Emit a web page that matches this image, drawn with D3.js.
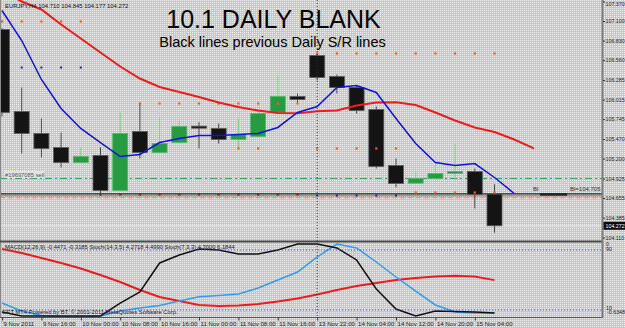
<!DOCTYPE html>
<html>
<head>
<meta charset="utf-8">
<script src="https://cdn.jsdelivr.net/npm/d3@7"></script>
<style>
html, body { margin: 0; padding: 0; background: #d3d3d3; }
svg { display: block; font-family: "Liberation Sans", Arial, sans-serif; }
</style>
</head>
<body>
<svg id="chart" width="625" height="328"></svg>
<script>
'use strict';

// EURJPY H4, 9 Nov 2011 08:00 .. 15 Nov 04:00
var opens  = [106.983, 105.851, 105.547, 105.353, 105.146, 105.243, 104.759, 105.574, 105.284, 105.422, 105.648, 105.616, 105.464,
              105.505, 105.837, 106.058, 106.624, 106.334, 106.182, 105.878, 105.105, 104.860, 104.925, 104.994, 105.022, 104.710];
var highs  = [107.000, 106.182, 105.754, 105.561, 105.353, 105.353, 105.837, 105.961, 105.768, 105.726, 105.703, 105.685, 105.754,
              105.864, 106.348, 106.099, 106.652, 106.362, 106.210, 105.920, 105.202, 105.026, 105.132, 105.409, 105.063, 104.845];
var lows   = [105.782, 105.271, 105.215, 105.077, 105.132, 104.690, 104.746, 105.202, 105.271, 105.409, 105.340, 105.409, 105.353,
              105.492, 105.823, 105.975, 106.279, 106.099, 105.823, 105.063, 104.801, 104.856, 104.911, 104.898, 104.511, 104.177];
var closes = [105.837, 105.547, 105.340, 105.146, 105.229, 104.759, 105.547, 105.284, 105.409, 105.643, 105.620, 105.464, 105.533,
              105.823, 106.058, 106.016, 106.320, 106.182, 105.864, 105.091, 104.856, 104.925, 104.994, 105.022, 104.705, 104.272];

// moving averages (drawn shifted, so they run past the last bar)
var maFast = [107.246, 106.831, 106.293, 105.892, 105.616, 105.422, 105.229, 105.257, 105.422, 105.478, 105.519, 105.519, 105.533,
              105.547, 105.630, 105.837, 105.920, 106.182, 106.210, 106.113, 105.754, 105.409, 105.146, 105.105, 105.132, 104.939, 104.718];
var maSlow = [107.522, 107.370, 107.260, 107.052, 106.859, 106.666, 106.472, 106.306, 106.189, 106.120, 106.051, 105.975, 105.913,
              105.864, 105.830, 105.827, 105.855, 105.864, 105.934, 105.975, 105.979, 105.940, 105.837, 105.726, 105.630, 105.568, 105.464, 105.340];

// lower window
var stochMain   = [7.3, 2, 2, 2, 2, 2, 19.3, 34, 72.7, 83.3, 91.3, 90, 84.7, 84.7, 90, 98, 98, 92.7, 76.7, 38, 11.3, 2, 8.7, 8, 7.3, 6];
var stochSignal = [19.3, 8.7, 2.7, 1.3, 1.1, 2, 8.7, 12.7, 16, 22, 27.7, 29.3, 31.3, 39.3, 50, 60.7, 80.7, 98, 92.7, 74, 54, 35.3, 16.7, 7.3, 6, 6];
var macdSignal  = [-0.055, -0.089, -0.131, -0.174, -0.220, -0.275, -0.334, -0.402, -0.461, -0.495, -0.529, -0.537, -0.533,
                   -0.521, -0.499, -0.474, -0.440, -0.402, -0.368, -0.343, -0.317, -0.300, -0.288, -0.282, -0.288, -0.3185];

// marker rows: [price, first bar, last bar]
var orangeDots = [[107.094, 0, 4], [105.961, 7, 15], [106.652, 16, 25], [105.340, 12, 13], [105.340, 16, 20], [104.732, 21, 25]];
var blueDots   = [[106.458, 1, 4], [104.690, 16, 20]];
var redDots    = [[104.704, 5, 15]];

var srLevel = 104.705, sellLevel = 104.925, stopLevel = 104.660;

var priceTicks = [107.370, 107.100, 106.830, 106.560, 106.285, 106.015, 105.745, 105.470, 105.200, 104.925, 104.655, 104.385, 104.110];
var timeTicks  = [0, 2, 4, 6, 8, 10, 12, 14, 16, 18, 20, 22, 24];
var timeLabels = ['9 Nov 2011', '9 Nov 16:00', '10 Nov 00:00', '10 Nov 08:00', '10 Nov 16:00', '11 Nov 00:00', '11 Nov 08:00',
                  '11 Nov 16:00', '13 Nov 22:00', '14 Nov 04:00', '14 Nov 12:00', '14 Nov 20:00', '15 Nov 04:00'];

var W = 625, H = 328;
var plotR = 602;
var mainBot = 241, indTop = 242.5, indBot = 317.5;

var svg = d3.select('#chart');
var defs = svg.append('defs');

// dithered grey background like the gif
var pat = defs.append('pattern').attr('id', 'dots')
	.attr('width', 2).attr('height', 2).attr('patternUnits', 'userSpaceOnUse');
pat.append('rect').attr('width', 2).attr('height', 2).attr('fill', '#c7c7c7');
pat.append('rect').attr('width', 1).attr('height', 1).attr('fill', '#f0f0f0');
svg.append('rect').attr('width', W).attr('height', H).attr('fill', 'url(#dots)');

defs.append('clipPath').attr('id', 'mainClip')
	.append('rect').attr('x', 0).attr('y', 0).attr('width', plotR).attr('height', mainBot);
defs.append('clipPath').attr('id', 'indClip')
	.append('rect').attr('x', 0).attr('y', indTop).attr('width', plotR).attr('height', indBot - indTop);

var x = d3.scaleLinear().domain([0, 25]).range([2, 494.5]);
var yP = d3.scaleLinear().domain([104.110, 107.370]).range([237.5, 1.5]);
var yS = d3.scaleLinear().domain([0, 100]).range([indBot, indTop]);
var yM = d3.scaleLinear().domain([-0.6348, 0]).range([indBot, indTop]);

var main = svg.append('g').attr('clip-path', 'url(#mainClip)');
var ind = svg.append('g').attr('clip-path', 'url(#indClip)');

// period separator
svg.append('line')
	.attr('x1', x(16)).attr('x2', x(16)).attr('y1', 0).attr('y2', indBot)
	.attr('stroke', '#333').attr('stroke-dasharray', '1,2');

// levels
main.append('line').attr('x1', 0).attr('x2', plotR).attr('y1', yP(sellLevel)).attr('y2', yP(sellLevel))
	.attr('stroke', '#3ea64e').attr('stroke-dasharray', '7,3,2,3');
main.append('line').attr('x1', 0).attr('x2', plotR).attr('y1', yP(stopLevel)).attr('y2', yP(stopLevel))
	.attr('stroke', '#ee8e74').attr('stroke-dasharray', '5,3');
main.append('line').attr('x1', 0).attr('x2', plotR).attr('y1', yP(srLevel) - 0.5).attr('y2', yP(srLevel) - 0.5)
	.attr('stroke', '#222').attr('stroke-width', 1.2);
main.append('line').attr('x1', 0).attr('x2', plotR).attr('y1', yP(srLevel) + 1.5).attr('y2', yP(srLevel) + 1.5)
	.attr('stroke', '#666').attr('stroke-width', 0.8);
main.append('line').attr('x1', 540).attr('x2', 567).attr('y1', yP(srLevel)).attr('y2', yP(srLevel))
	.attr('stroke', '#222').attr('stroke-width', 2.5);
// bid line
main.append('line').attr('x1', 0).attr('x2', plotR).attr('y1', yP(closes[25])).attr('y2', yP(closes[25]))
	.attr('stroke', '#dcdcdc').attr('stroke-width', 1.5);

// marker dots
function drawDots(rows, colour, size) {
	rows.forEach(function(r) {
		main.selectAll(null).data(d3.range(r[1], r[2] + 1)).enter().append('rect')
			.attr('x', function(i) { return x(i) - size / 2; })
			.attr('y', yP(r[0]) - size / 2)
			.attr('width', size).attr('height', size)
			.attr('fill', colour);
	});
}

// candles
var bars = d3.range(opens.length).map(function(i) {
	return { i: i, o: opens[i], h: highs[i], l: lows[i], c: closes[i], up: closes[i] >= opens[i] };
});
var bodyW = 15;
main.selectAll('line.wick').data(bars).enter().append('line')
	.attr('class', 'wick')
	.attr('x1', function(d) { return x(d.i); })
	.attr('x2', function(d) { return x(d.i); })
	.attr('y1', function(d) { return yP(d.h); })
	.attr('y2', function(d) { return yP(d.l); })
	.attr('stroke', function(d) { return d.up ? '#7ad67a' : '#4a4a4a'; })
	.attr('stroke-width', 1);
main.selectAll('rect.body').data(bars).enter().append('rect')
	.attr('class', 'body')
	.attr('x', function(d) { return x(d.i) - bodyW / 2; })
	.attr('width', bodyW)
	.attr('y', function(d) { return yP(Math.max(d.o, d.c)); })
	.attr('height', function(d) { return Math.max(1.5, Math.abs(yP(d.o) - yP(d.c))); })
	.attr('fill', function(d) { return d.up ? '#279a44' : '#141414'; })
	.attr('stroke', function(d) { return d.up ? '#4cbf5c' : '#5a5a5a'; })
	.attr('stroke-width', 0.8);

drawDots(orangeDots, '#ff5a1a', 2.2);
drawDots(blueDots, '#2020a0', 2);
drawDots(redDots, '#a01818', 2.2);

var lineP = d3.line().x(function(d, i) { return x(i); }).y(function(d) { return yP(d); });
main.append('path').attr('d', lineP(maSlow)).attr('fill', 'none').attr('stroke', '#f21a1a').attr('stroke-width', 2);
main.append('path').attr('d', lineP(maFast)).attr('fill', 'none').attr('stroke', '#1010e8').attr('stroke-width', 1.5);

// lower window levels
[90, 10].forEach(function(v) {
	svg.append('line').attr('x1', 0).attr('x2', plotR).attr('y1', yS(v)).attr('y2', yS(v))
		.attr('stroke', '#5050f0').attr('stroke-dasharray', '1,2');
});
var lineS = d3.line().x(function(d, i) { return x(i); }).y(function(d) { return yS(d); });
var lineM = d3.line().x(function(d, i) { return x(i); }).y(function(d) { return yM(d); });
ind.append('path').attr('d', lineM(macdSignal)).attr('fill', 'none').attr('stroke', '#f01c1c').attr('stroke-width', 2);
ind.append('path').attr('d', lineS(stochSignal)).attr('fill', 'none').attr('stroke', '#3399ff').attr('stroke-width', 1.5);
ind.append('path').attr('d', lineS(stochMain)).attr('fill', 'none').attr('stroke', '#111').attr('stroke-width', 1.5);

// frame
svg.append('line').attr('x1', 0.5).attr('x2', 0.5).attr('y1', 0).attr('y2', indBot).attr('stroke', '#8a8a8a');
svg.append('line').attr('x1', 0).attr('x2', plotR + 1).attr('y1', mainBot + 0.5).attr('y2', mainBot + 0.5)
	.attr('stroke', '#4a4a4a').attr('stroke-width', 2);
svg.append('line').attr('x1', 0).attr('x2', plotR + 1).attr('y1', indBot).attr('y2', indBot)
	.attr('stroke', '#555').attr('stroke-width', 1.2);
svg.append('line').attr('x1', plotR + 0.5).attr('x2', plotR + 0.5).attr('y1', 0).attr('y2', indBot)
	.attr('stroke', '#808080').attr('stroke-width', 2);

// price axis, small enough to fit the strip right of the chart
var axisP = d3.axisRight(yP).tickValues(priceTicks).tickFormat(d3.format('.3f')).tickSize(2).tickPadding(0.5);
var gP = svg.append('g').attr('transform', 'translate(' + (plotR + 1) + ',0)').call(axisP);
gP.select('.domain').remove();
gP.selectAll('line').attr('stroke', '#333');
gP.selectAll('text').attr('font-size', 5.3).attr('fill', '#222').attr('font-family', '"Liberation Sans", Arial, sans-serif')
	.attr('dy', function(d, i) { return i === 0 ? '0.8em' : '0.32em'; });

svg.append('rect').attr('x', plotR + 1.5).attr('y', yP(closes[25]) - 4).attr('width', 24).attr('height', 8).attr('fill', '#0a0a0a');
svg.append('text').attr('x', plotR + 3.5).attr('y', yP(closes[25]) + 1.9).attr('font-size', 5.3).attr('fill', '#fff')
	.text(d3.format('.3f')(closes[25]));

// lower window scale labels
var scaleLbl = [['0', 245.5], ['90', 251], ['10', 309.5], ['-0.6348', 314]];
svg.selectAll('text.scl').data(scaleLbl).enter().append('text')
	.attr('class', 'scl')
	.attr('x', function(d, i) { return i === 3 ? plotR + 5 : plotR + 4; })
	.attr('y', function(d) { return d[1]; })
	.attr('font-size', 5.3).attr('fill', '#222')
	.text(function(d) { return d[0]; });

// time axis
var axisT = d3.axisBottom(x).tickValues(timeTicks)
	.tickFormat(function(d, i) { return timeLabels[i]; }).tickSize(3).tickPadding(1);
var gT = svg.append('g').attr('transform', 'translate(0,' + indBot + ')').call(axisT);
gT.select('.domain').remove();
gT.selectAll('line').attr('stroke', '#333');
gT.selectAll('text').attr('font-size', 6.1).attr('fill', '#222').attr('text-anchor', 'start')
	.attr('dx', 1).attr('font-family', '"Liberation Sans", Arial, sans-serif');

// texts
svg.append('text').attr('x', 5).attr('y', 7.5).attr('font-size', 5.9).attr('fill', '#111')
	.text('EURJPY,H4 104.710 104.845 104.177 104.272');
svg.append('text').attr('x', 273.5).attr('y', 27.5).attr('text-anchor', 'middle')
	.attr('font-size', 25).attr('fill', '#000').text('10.1 DAILY BLANK');
svg.append('text').attr('x', 272.5).attr('y', 47).attr('text-anchor', 'middle')
	.attr('font-size', 14.5).attr('fill', '#000').text('Black lines previous Daily S/R lines');
svg.append('rect').attr('x', 4).attr('y', 171).attr('width', 40).attr('height', 7).attr('fill', '#e2e2e2');
svg.append('text').attr('x', 5).attr('y', 176.5).attr('font-size', 5.8).attr('fill', '#555').text('#19697085 sell');
svg.append('text').attr('x', 533).attr('y', 191).attr('font-size', 6).attr('fill', '#333').text('Bl');
svg.append('text').attr('x', 570).attr('y', 191).attr('font-size', 6).attr('fill', '#333').text('Bl=104.705');
svg.append('text').attr('x', 5).attr('y', 248.5).attr('font-size', 5.8).attr('fill', '#222')
	.text('MACD(12,26,9) -0.4471 -0.3185  Stoch(14,3,5) 4.2718 4.4990  Stoch(7,3,3) 4.7000 6.1844');
svg.append('text').attr('x', 2).attr('y', 314).attr('font-size', 5.8).attr('fill', '#222')
	.text('GET MT4 Powered by BT. \u00a9 2001-2011 MetaQuotes Software Corp.');
</script>
</body>
</html>
